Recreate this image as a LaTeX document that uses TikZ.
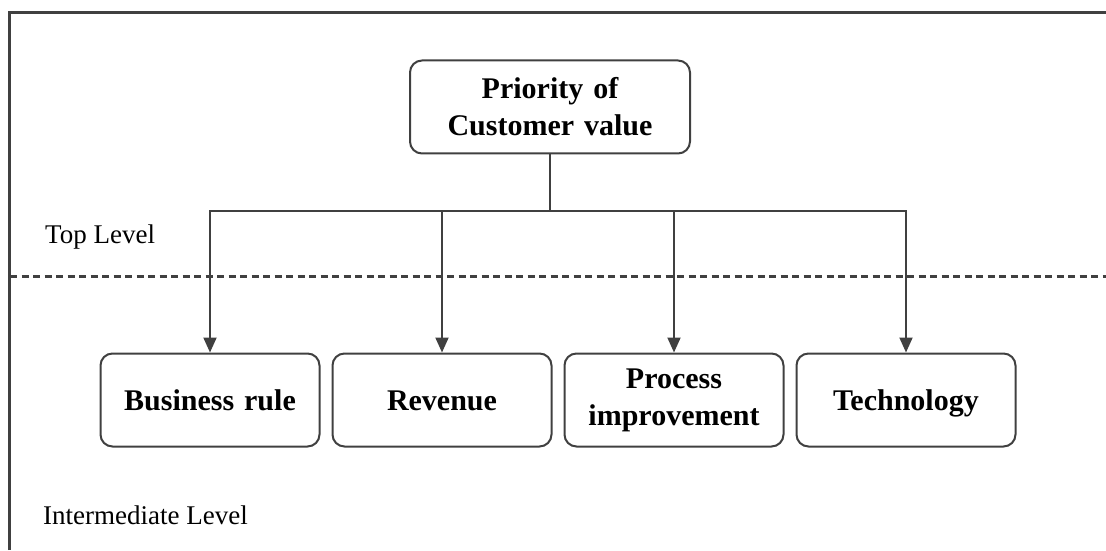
\documentclass[tikz,border=0pt]{standalone}
\usepackage{fontspec}
\setmainfont{Liberation Serif}
\usepackage{xcolor}
\usepackage{tikz}
\usetikzlibrary{arrows.meta, positioning}
\definecolor{linegray}{HTML}{404040}
\tikzstyle{rootbox} = [rectangle, draw=linegray, line width=2pt, text width=260pt, align=center, rounded corners=12pt, minimum width=280pt, minimum height=93pt, font=\fontsize{30}{37}\selectfont\bfseries]
\tikzstyle{factor} = [rectangle, draw=linegray, line width=2pt, text width=205pt, align=center, rounded corners=12pt, minimum width=219pt, minimum height=93pt, font=\fontsize{30}{37}\selectfont\bfseries]
\tikzstyle{oneline} = [text height=21pt, text depth=0pt]
\tikzstyle{levellabel} = [anchor=west, inner sep=0pt, font=\fontsize{27}{32}\selectfont]
\tikzstyle{arrow} = [-{Triangle[length=15pt, width=13pt]}, draw=linegray, line width=2pt]

\begin{document}
\begin{tikzpicture}[x=1pt, y=1pt, node distance=11pt and 11pt]
\useasboundingbox (0,0) rectangle (1106,550);

% frame and level separator
\draw[linegray, line width=3pt] (9.5,0) -- (9.5,537) -- (1106,537);
\draw[linegray, line width=3pt, dash pattern=on 7pt off 4.5pt] (10,274) -- (1106,274);

\node[levellabel] (toplbl) at (45,313) {Top Level};
\node[levellabel] (midlbl) at (43,35) {Intermediate Level};

% top level
\node[rootbox] (prio) at (550,443) {Priority of\\Customer value};

% intermediate level
\node[factor, oneline] (rule) at (210,150) {Business rule};
\node[factor, oneline, right=of rule] (revenue) {Revenue};
\node[factor, right=of revenue] (process) {Process\\improvement};
\node[factor, oneline, right=of process] (tech) {Technology};

\coordinate[below=56pt of prio.south] (bus);

\draw[linegray, line width=2pt] (prio) -- (bus);
\draw[arrow] (bus) -| (rule);
\draw[arrow] (bus) -| (revenue);
\draw[arrow] (bus) -| (process);
\draw[arrow] (bus) -| (tech);

\end{tikzpicture}
\end{document}
